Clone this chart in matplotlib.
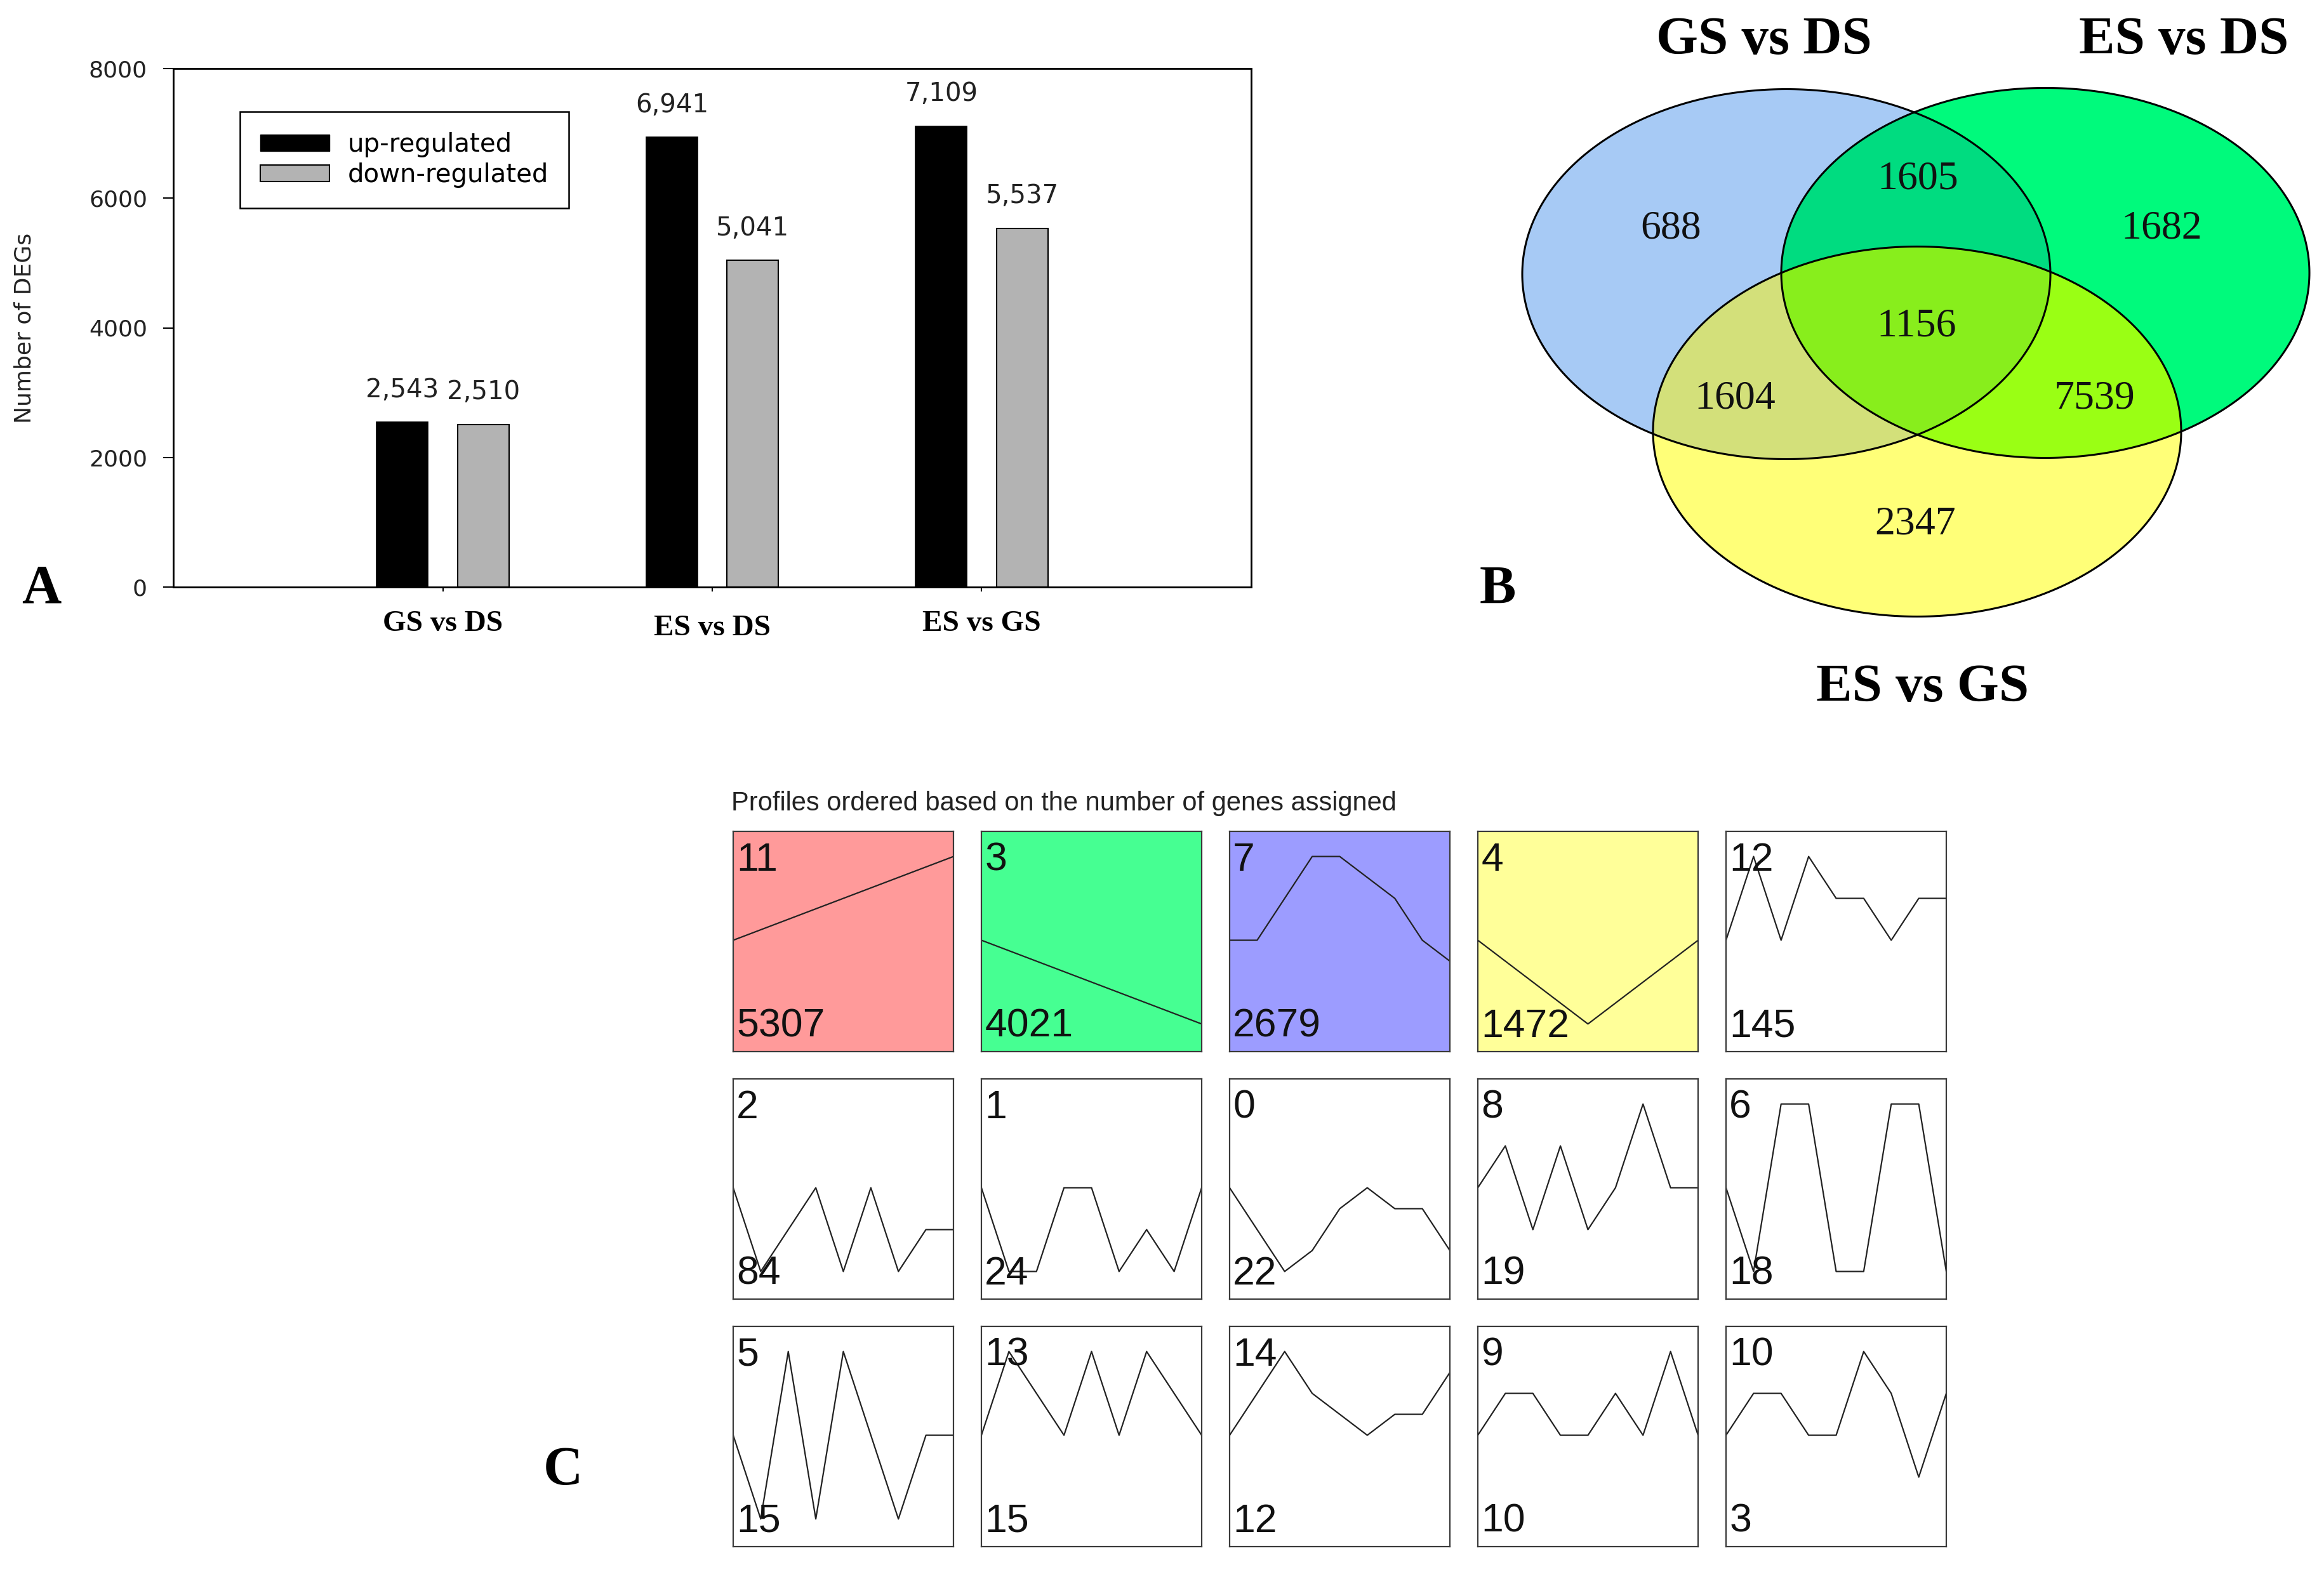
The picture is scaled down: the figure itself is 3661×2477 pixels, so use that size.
import numpy as np
import matplotlib
matplotlib.use("Agg")
import matplotlib.pyplot as plt
from matplotlib.patches import Patch, Polygon

# ---- panel A: DEG counts ------------------------------------------------
comparisons = ["GS vs DS", "ES vs DS", "ES vs GS"]
up_regulated = [2543, 6941, 7109]
down_regulated = [2510, 5041, 5537]
y_ticks = [0, 2000, 4000, 6000, 8000]

# ---- panel B: Venn region counts ----------------------------------------
venn_sets = ["GS vs DS", "ES vs DS", "ES vs GS"]
only_gs_ds, only_es_ds, only_es_gs = 688, 1682, 2347
gs_ds_and_es_ds, gs_ds_and_es_gs, es_ds_and_es_gs = 1605, 1604, 7539
all_three = 1156

# ---- panel C: STEM profiles ---------------------------------------------
profile_title = "Profiles ordered based on the number of genes assigned"
profile_ids = [11, 3, 7, 4, 12, 2, 1, 0, 8, 6, 5, 13, 14, 9, 10]
profile_counts = [5307, 4021, 2679, 1472, 145, 84, 24, 22, 19, 18, 15, 15, 12, 10, 3]
profile_values = [
    [0, 1, 2, 3, 4, 5, 6, 7, 8],
    [0, -1, -2, -3, -4, -5, -6, -7, -8],
    [0, 0, 2, 4, 4, 3, 2, 0, -1],
    [0, -1, -2, -3, -4, -3, -2, -1, 0],
    [0, 2, 0, 2, 1, 1, 0, 1, 1],
    [0, -2, -1, 0, -2, 0, -2, -1, -1],
    [0, -2, -2, 0, 0, -2, -1, -2, 0],
    [0, -2, -4, -3, -1, 0, -1, -1, -3],
    [0, 2, -2, 2, -2, 0, 4, 0, 0],
    [0, -2, 2, 2, -2, -2, 2, 2, -2],
    [0, -2, 2, -2, 2, 0, -2, 0, 0],
    [0, 2, 1, 0, 2, 0, 2, 1, 0],
    [0, 2, 4, 2, 1, 0, 1, 1, 3],
    [0, 1, 1, 0, 0, 1, 0, 2, 0],
    [0, 1, 1, 0, 0, 2, 1, -1, 1],
]
profile_colors = ["#ff9a9a", "#46ff92", "#9c9cff", "#ffff99"] + ["white"] * 11

W, H = 3662, 2477
fig = plt.figure(figsize=(W / 100, H / 100), dpi=100)

SANS = "DejaVu Sans"
SERIF = "Liberation Serif"
ARIAL = "Liberation Sans"

# ---------------------------------------------------------------- panel A
ax = fig.add_axes([273 / W, 1 - 925 / H, 1698 / W, 817 / H])
x = np.arange(1, len(comparisons) + 1)
bw, off = 0.19, 0.15
b_up = ax.bar(x - off, up_regulated, bw, color="black", edgecolor="black", lw=1.2)
b_dn = ax.bar(x + off, down_regulated, bw, color="#b3b3b3", edgecolor="black", lw=1.5)
for bars in (b_up, b_dn):
    for r in bars:
        ax.annotate(f"{int(r.get_height()):,}", (r.get_x() + r.get_width() / 2, r.get_height()),
                    xytext=(0, 22), textcoords="offset points", ha="center", va="bottom",
                    fontsize=29, family=SANS, color="#222222")
ax.set_xlim(0, 4)
ax.set_ylim(0, 8000)
ax.set_yticks(y_ticks)
ax.set_yticklabels([str(t) for t in y_ticks], family=SANS, fontsize=26, color="#222222")
ax.set_xticks(x)
ax.set_xticklabels(comparisons, family=SERIF, fontweight="bold", fontsize=34)
ax.tick_params(axis="y", length=11.5, width=1.5, pad=18)
ax.tick_params(axis="x", length=5, width=1.5, pad=22)
ax.xaxis.get_major_ticks()[1].set_pad(27)   # middle label sits a bit lower
for s in ax.spines.values():
    s.set_linewidth(2)
ax.set_ylabel("Number of DEGs", family=SANS, fontsize=26, color="#222222")
ax.yaxis.set_label_coords(-0.128, 0.5)
handles = [Patch(facecolor="black", edgecolor="black", label="up-regulated"),
           Patch(facecolor="#b3b3b3", edgecolor="black", lw=1.5, label="down-regulated")]
leg = ax.legend(handles=handles, loc="upper left", bbox_to_anchor=(0.062, 0.917),
                borderaxespad=0, fancybox=False, edgecolor="black", framealpha=1,
                prop={"family": SANS, "size": 29}, handlelength=2.7, handleheight=0.6,
                labelspacing=0.2, borderpad=0.8, handletextpad=0.7)
leg.get_frame().set_linewidth(1.8)

# ---------------------------------------------------------------- overlay (B + letters)
ov = fig.add_axes([0, 0, 1, 1])
ov.set_xlim(0, W)
ov.set_ylim(H, 0)
ov.axis("off")
ov.patch.set_visible(False)


def ellipse_pts(cx, cy, w, h, n=400):
    t = np.linspace(0, 2 * np.pi, n, endpoint=False)
    return [(cx + w / 2 * np.cos(a), cy + h / 2 * np.sin(a)) for a in t]


def clip_poly(subject, clipper):
    # Sutherland-Hodgman, clipper convex & counter-clockwise
    def inside(p, a, b):
        return (b[0] - a[0]) * (p[1] - a[1]) - (b[1] - a[1]) * (p[0] - a[0]) >= 0

    def cross_pt(s, e, a, b):
        x1, y1 = s; x2, y2 = e; x3, y3 = a; x4, y4 = b
        d = (x1 - x2) * (y3 - y4) - (y1 - y2) * (x3 - x4)
        u = ((x1 - x3) * (y3 - y4) - (y1 - y3) * (x3 - x4)) / d
        return (x1 + u * (x2 - x1), y1 + u * (y2 - y1))

    out = subject
    for i in range(len(clipper)):
        a, b = clipper[i], clipper[(i + 1) % len(clipper)]
        inp, out = out, []
        if not inp:
            break
        s = inp[-1]
        for e in inp:
            if inside(e, a, b):
                if not inside(s, a, b):
                    out.append(cross_pt(s, e, a, b))
                out.append(e)
            elif inside(s, a, b):
                out.append(cross_pt(s, e, a, b))
            s = e
    return out


EW, EH = 832, 583
A = ellipse_pts(2814, 432, EW, EH)
B = ellipse_pts(3222, 430, EW, EH)
C = ellipse_pts(3020, 680, EW, EH)
fills = [
    (A, "#a7caf5"), (B, "#00fa7c"), (C, "#ffff78"),
    (clip_poly(A, B), "#00dc80"), (clip_poly(A, C), "#d3e07a"),
    (clip_poly(B, C), "#9aff14"), (clip_poly(clip_poly(A, B), C), "#88ee1c"),
]
for pts, col in fills:
    ov.add_patch(Polygon(pts, closed=True, facecolor=col, edgecolor="none"))
for pts in (A, B, C):
    ov.add_patch(Polygon(pts, closed=True, facecolor="none", edgecolor="black", lw=2.2))

venn_text = [
    (2632, 360, only_gs_ds), (3021, 283, gs_ds_and_es_ds), (3405, 360, only_es_ds),
    (3019, 515, all_three), (2733, 629, gs_ds_and_es_gs), (3300, 629, es_ds_and_es_gs),
    (3017, 827, only_es_gs),
]
for tx, ty, v in venn_text:
    ov.text(tx, ty, str(v), ha="center", va="center", family=SERIF, fontsize=46, color="#111111")
for (tx, ty), name in zip([(2779, 65), (3440, 65), (3029, 1085)], venn_sets):
    ov.text(tx, ty, name, ha="center", va="center", family=SERIF, fontweight="bold", fontsize=61)

for tx, ty, lab in [(65, 929, "A"), (2359, 930, "B"), (887, 2319, "C")]:
    ov.text(tx, ty, lab, ha="center", va="center", family=SERIF, fontweight="bold", fontsize=62)

ov.text(1152, 1266, profile_title, ha="left", va="center", family=ARIAL, fontsize=30,
        color="#222222")

# ---------------------------------------------------------------- panel C
bx0, by0, bsz, step_x, step_y = 1155, 1310, 347, 391, 390
for k, (pid, cnt, vals, fc) in enumerate(zip(profile_ids, profile_counts,
                                              profile_values, profile_colors)):
    r, c = divmod(k, 5)
    left = bx0 + c * step_x
    top = by0 + r * step_y
    pax = fig.add_axes([left / W, 1 - (top + bsz) / H, bsz / W, bsz / H], facecolor=fc)
    v = np.array(vals, dtype=float)
    v = v / np.abs(v).max()
    pax.plot(np.arange(len(v)), v, color="#222222", lw=1.6)
    pax.set_xlim(0, len(v) - 1)
    pax.set_ylim(-1.33, 1.30)
    pax.set_xticks([])
    pax.set_yticks([])
    for s in pax.spines.values():
        s.set_linewidth(1.6)
        s.set_color("#3a3a3a")
    pax.text(0.015, 0.955, str(pid), transform=pax.transAxes, ha="left", va="top",
             family=ARIAL, fontsize=45, color="#111111")
    pax.text(0.015, 0.03, str(cnt), transform=pax.transAxes, ha="left", va="bottom",
             family=ARIAL, fontsize=45, color="#111111")

fig.savefig("out.png", dpi=100)
